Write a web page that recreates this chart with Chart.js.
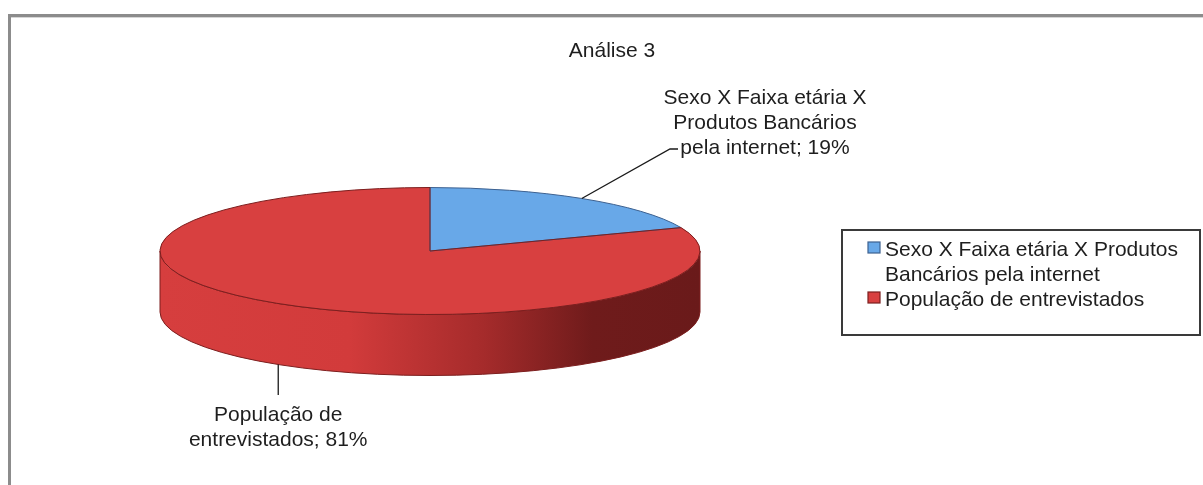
<!DOCTYPE html>
<html>
<head>
<meta charset="utf-8">
<script src="https://cdn.jsdelivr.net/npm/chart.js@4/dist/chart.umd.min.js"></script>
<style>
  html, body { margin: 0; padding: 0; background: #ffffff; overflow: hidden; }
  canvas { display: block; }
</style>
</head>
<body>
<canvas id="chart" width="1203" height="485"></canvas>
<script>
// ---- data ----
const categories = [
  'Sexo X Faixa etária X Produtos Bancários pela internet',
  'População de entrevistados'
];
const shares = [19, 81];
const chartTitle = 'Análise 3';

// ---- styling ----
const FONT = '21px "Liberation Sans", Arial, sans-serif';
const TEXT_COLOR = '#1e1e1e';
const faceColors = ['#68a8e8', '#d84040'];
const edgeColors = ['#3d6190', '#7c1e1e'];
const PIE = { rx: 270, ry: 63.5, depth: 61 };   // flattened top ellipse and rim height
const LINE_H = 25;

// data-label placement for each slice
const labelLayout = [
  { kind: 'elbow', elbowX: 670, elbowY: 149, tailX: 678, textX: 765, baseline: 104, wrapWidth: 215 },
  { kind: 'drop', endY: 395, baseline: 421, wrapWidth: 215 }
];
const legendBox = { x: 842, y: 230, w: 358, h: 105, textX: 885, swatchX: 868, baseline: 256, wrapWidth: 305 };

function wrapText(ctx, text, maxW) {
  const words = text.split(' ');
  const lines = [];
  let cur = '';
  for (const w of words) {
    const test = cur ? cur + ' ' + w : w;
    if (cur && ctx.measureText(test).width > maxW) {
      lines.push(cur);
      cur = w;
    } else {
      cur = test;
    }
  }
  if (cur) lines.push(cur);
  return lines;
}

function frontRanges(s, e) {
  // parts of [s, e] that face the viewer (lower half of the ellipse)
  const out = [];
  for (const k of [-2, 0, 2]) {
    const a1 = Math.max(s, k * Math.PI);
    const a2 = Math.min(e, k * Math.PI + Math.PI);
    if (a2 > a1) out.push([a1, a2]);
  }
  return out;
}

const pie3d = {
  id: 'pie3d',
  beforeDraw(chart) {
    const ctx = chart.ctx;
    ctx.save();
    // outer frame
    ctx.fillStyle = '#8c8c8c';
    ctx.fillRect(8, 14, 1195, 3);
    ctx.fillRect(8, 14, 3, 471);
    ctx.fillStyle = '#d6d6d6';
    ctx.fillRect(11, 17, 1192, 1);
    // title
    ctx.font = FONT;
    ctx.fillStyle = TEXT_COLOR;
    ctx.textAlign = 'center';
    ctx.textBaseline = 'alphabetic';
    ctx.fillText(chartTitle, 612, 57);
    ctx.restore();
  },
  beforeDatasetsDraw(chart) {
    const ctx = chart.ctx;
    const arcs = chart.getDatasetMeta(0).data;
    if (!arcs.length) return;
    const cx = arcs[0].x, cy = arcs[0].y;
    const { rx, ry, depth } = PIE;

    // rim of the pie
    const grad = ctx.createLinearGradient(cx - rx, 0, cx + rx, 0);
    grad.addColorStop(0.00, '#d63e3e');
    grad.addColorStop(0.35, '#d23b3b');
    grad.addColorStop(0.60, '#a52b2b');
    grad.addColorStop(0.80, '#6f1b1b');
    grad.addColorStop(1.00, '#6a1a1a');

    arcs.forEach((arc, i) => {
      frontRanges(arc.startAngle, arc.endAngle).forEach(([a1, a2]) => {
        ctx.save();
        ctx.beginPath();
        ctx.ellipse(cx, cy, rx, ry, 0, a1, a2, false);
        ctx.lineTo(cx + rx * Math.cos(a2), cy + ry * Math.sin(a2) + depth);
        ctx.ellipse(cx, cy + depth, rx, ry, 0, a2, a1, true);
        ctx.closePath();
        ctx.fillStyle = i === 1 ? grad : faceColors[i];
        ctx.fill();
        ctx.strokeStyle = edgeColors[i];
        ctx.lineWidth = 1;
        ctx.stroke();
        ctx.restore();
      });
    });

    // squash the round pie into the top ellipse
    const R = arcs[0].outerRadius;
    ctx.save();
    ctx.translate(cx, cy);
    ctx.scale(rx / R, ry / R);
    ctx.translate(-cx, -cy);
  },
  afterDatasetsDraw(chart) {
    const ctx = chart.ctx;
    ctx.restore();
    const arcs = chart.getDatasetMeta(0).data;
    if (!arcs.length) return;
    const cx = arcs[0].x, cy = arcs[0].y;
    const { rx, ry, depth } = PIE;

    // top face outlines
    arcs.forEach((arc, i) => {
      ctx.save();
      ctx.beginPath();
      ctx.moveTo(cx, cy);
      ctx.ellipse(cx, cy, rx, ry, 0, arc.startAngle, arc.endAngle, false);
      ctx.closePath();
      ctx.strokeStyle = edgeColors[i];
      ctx.lineWidth = 1;
      ctx.stroke();
      ctx.restore();
    });

    // data labels with leader lines
    const total = shares.reduce((a, b) => a + b, 0);
    ctx.save();
    ctx.font = FONT;
    ctx.fillStyle = TEXT_COLOR;
    ctx.strokeStyle = '#1a1a1a';
    ctx.lineWidth = 1.3;
    ctx.textAlign = 'center';
    ctx.textBaseline = 'alphabetic';
    arcs.forEach((arc, i) => {
      const mid = (arc.startAngle + arc.endAngle) / 2;
      let px = cx + rx * Math.cos(mid);
      let py = cy + ry * Math.sin(mid);
      if (Math.sin(mid) > 0) py += depth;
      const lay = labelLayout[i];
      const pct = Math.round(shares[i] / total * 100);
      const lines = wrapText(ctx, categories[i] + '; ' + pct + '%', lay.wrapWidth);
      ctx.beginPath();
      ctx.moveTo(px, py);
      let textX;
      if (lay.kind === 'elbow') {
        ctx.lineTo(lay.elbowX, lay.elbowY);
        ctx.lineTo(lay.tailX, lay.elbowY);
        textX = lay.textX;
      } else {
        ctx.lineTo(px, lay.endY);
        textX = px;
      }
      ctx.stroke();
      lines.forEach((ln, k) => ctx.fillText(ln, textX, lay.baseline + k * LINE_H));
    });
    ctx.restore();

    // legend
    const L = legendBox;
    ctx.save();
    ctx.fillStyle = '#ffffff';
    ctx.fillRect(L.x, L.y, L.w, L.h);
    ctx.strokeStyle = '#3a3a3a';
    ctx.lineWidth = 2;
    ctx.strokeRect(L.x, L.y, L.w, L.h);
    ctx.font = FONT;
    ctx.textAlign = 'left';
    ctx.textBaseline = 'alphabetic';
    let base = L.baseline;
    categories.forEach((cat, i) => {
      ctx.fillStyle = faceColors[i];
      ctx.fillRect(L.swatchX, base - 14, 12, 11);
      ctx.strokeStyle = edgeColors[i];
      ctx.lineWidth = 1.2;
      ctx.strokeRect(L.swatchX, base - 14, 12, 11);
      ctx.fillStyle = TEXT_COLOR;
      wrapText(ctx, cat, L.wrapWidth).forEach(ln => {
        ctx.fillText(ln, L.textX, base);
        base += LINE_H;
      });
    });
    ctx.restore();
  }
};

new Chart(document.getElementById('chart'), {
  type: 'pie',
  data: {
    labels: categories,
    datasets: [{
      data: shares,
      backgroundColor: faceColors,
      borderWidth: 0,
      clip: false
    }]
  },
  options: {
    responsive: false,
    animation: false,
    layout: { padding: { left: 230, right: 573, top: 51, bottom: 34 } },
    plugins: {
      legend: { display: false },
      title: { display: false },
      tooltip: { enabled: false }
    },
    events: []
  },
  plugins: [pie3d]
});
</script>
</body>
</html>
